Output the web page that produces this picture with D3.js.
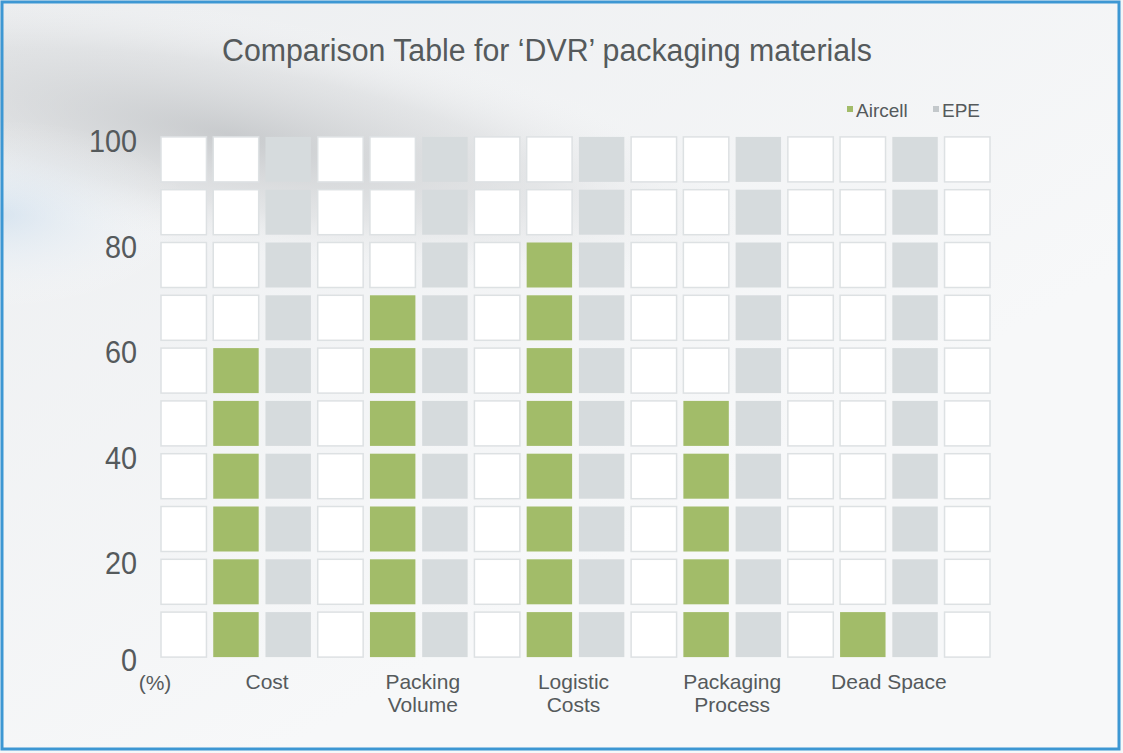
<!DOCTYPE html>
<html><head><meta charset="utf-8">
<script src="https://cdn.jsdelivr.net/npm/d3@7"></script>
<style>html,body{margin:0;padding:0;background:#fff;}svg{display:block;}</style>
</head><body>
<script>
const categories = ["Cost", "Packing Volume", "Logistic Costs", "Packaging Process", "Dead Space"];
const categoryLines = [["Cost"], ["Packing", "Volume"], ["Logistic", "Costs"], ["Packaging", "Process"], ["Dead Space"]];
const aircell = [60, 70, 80, 50, 10];
const epe = [100, 100, 100, 100, 100];
const yTicks = [0, 20, 40, 60, 80, 100];
const seriesNames = ["Aircell", "EPE"];
const cellStep = 10;

const W = 1123, H = 753;
const svg = d3.select("body").append("svg").attr("width", W).attr("height", H);
const defs = svg.append("defs");

// background
const bg = defs.append("linearGradient").attr("id", "bg").attr("x1", 0).attr("y1", 0).attr("x2", 0.6).attr("y2", 0.7);
bg.append("stop").attr("offset", "0%").attr("stop-color", "#eceef0");
bg.append("stop").attr("offset", "100%").attr("stop-color", "#f7f8f9");
const sh = defs.append("radialGradient").attr("id", "shadow")
  .attr("gradientUnits", "userSpaceOnUse").attr("cx", 230).attr("cy", 135).attr("r", 300)
  .attr("gradientTransform", "translate(230,135) rotate(10) scale(1.9,0.42) translate(-230,-135)");
sh.append("stop").attr("offset", "0%").attr("stop-color", "#aeb1b4").attr("stop-opacity", 0.6);
sh.append("stop").attr("offset", "55%").attr("stop-color", "#c4c6c8").attr("stop-opacity", 0.3);
sh.append("stop").attr("offset", "100%").attr("stop-color", "#ffffff").attr("stop-opacity", 0);
const bl = defs.append("radialGradient").attr("id", "bluish")
  .attr("gradientUnits", "userSpaceOnUse").attr("cx", 0).attr("cy", 215).attr("r", 160)
  .attr("gradientTransform", "translate(0,215) scale(1.2,0.6) translate(0,-215)");
bl.append("stop").attr("offset", "0%").attr("stop-color", "#c6dbee").attr("stop-opacity", 0.55);
bl.append("stop").attr("offset", "100%").attr("stop-color", "#ffffff").attr("stop-opacity", 0);
svg.append("rect").attr("width", W).attr("height", H).attr("fill", "url(#bg)");
svg.append("rect").attr("width", W).attr("height", H).attr("fill", "url(#shadow)");
svg.append("rect").attr("width", W).attr("height", H).attr("fill", "url(#bluish)");
svg.append("rect").attr("x", 2).attr("y", 2).attr("width", W - 6).attr("height", H - 6)
  .attr("fill", "none").attr("stroke", "#3d97d3").attr("stroke-width", 3);

const font = "'Liberation Sans', Arial, sans-serif";
const textColor = "#555a5c";

// title
svg.append("text").attr("x", 547).attr("y", 61).attr("text-anchor", "middle")
  .attr("font-family", font).attr("font-size", 31).attr("fill", textColor)
  .attr("textLength", 650).attr("lengthAdjust", "spacingAndGlyphs")
  .text("Comparison Table for \u2018DVR\u2019 packaging materials");

// columns: for each category a blank, aircell, epe, then a final blank
const columns = [];
categories.forEach((c, i) => {
  columns.push({type: "blank", cat: i, value: 0});
  columns.push({type: "aircell", cat: i, value: aircell[i]});
  columns.push({type: "epe", cat: i, value: epe[i]});
});
columns.push({type: "blank", cat: -1, value: 0});

const x = d3.scaleBand().domain(d3.range(columns.length)).range([161, 990]).paddingInner(0.13).paddingOuter(0);
const y = d3.scaleLinear().domain([0, 100]).range([661, 133]);
const rows = d3.range(0, 100, cellStep);
const gapY = 7.8;

const colors = {blank: "#ffffff", aircell: "#a2bc69", epe: "#d6dbdd"};

const cells = [];
columns.forEach((col, ci) => {
  rows.forEach(r => {
    const filled = col.type !== "blank" && r < col.value;
    cells.push({ci, r, fill: filled ? colors[col.type] : "#ffffff", filled});
  });
});

svg.append("g").selectAll("rect").data(cells).join("rect")
  .attr("x", d => x(d.ci))
  .attr("y", d => y(d.r + cellStep) + gapY / 2)
  .attr("width", x.bandwidth())
  .attr("height", d => y(d.r) - y(d.r + cellStep) - gapY)
  .attr("fill", d => d.fill)
  .attr("stroke", d => d.filled ? "none" : "#dde1e3")
  .attr("stroke-width", 1.5);

// y axis labels
svg.append("g").selectAll("text").data(yTicks).join("text")
  .attr("x", 137).attr("y", d => d === 0 ? y(d) + 10 : y(d) + 19)
  .attr("text-anchor", "end")
  .attr("font-family", font).attr("font-size", 31).attr("fill", textColor)
  .attr("transform", d => `translate(137,0) scale(0.93,1) translate(-137,0)`)
  .text(d => d);
svg.append("text").attr("x", 155).attr("y", 690).attr("text-anchor", "middle")
  .attr("font-family", font).attr("font-size", 21).attr("fill", textColor).text("(%)");

// category labels
const catG = svg.append("g");
const catShift = [5, 4, -2, 0, 0];
categories.forEach((c, i) => {
  const a = x(i * 3 + 1), b = x(i * 3 + 2) + x.bandwidth();
  const cx = (a + b) / 2 + catShift[i];
  const t = catG.append("text").attr("x", cx).attr("y", 689).attr("text-anchor", "middle")
    .attr("font-family", font).attr("font-size", 21).attr("fill", textColor);
  categoryLines[i].forEach((ln, k) => {
    t.append("tspan").attr("x", cx).attr("dy", k === 0 ? 0 : 23).text(ln);
  });
});

// legend
const legend = svg.append("g");
const legItems = [{name: seriesNames[0], color: colors.aircell, x: 847}, {name: seriesNames[1], color: "#c3c8cb", x: 933}];
legItems.forEach(it => {
  legend.append("rect").attr("x", it.x).attr("y", 106).attr("width", 6).attr("height", 6).attr("fill", it.color);
  legend.append("text").attr("x", it.x + 9).attr("y", 117)
    .attr("font-family", font).attr("font-size", 19).attr("fill", textColor).text(it.name);
});
</script>
</body></html>
